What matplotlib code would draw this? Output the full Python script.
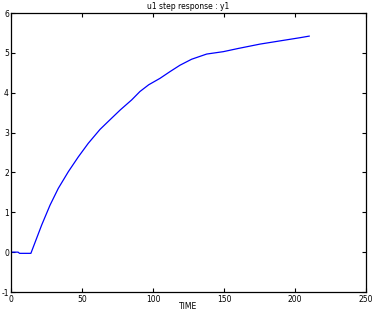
import numpy as np
import matplotlib
matplotlib.use("Agg")
import matplotlib.pyplot as plt

plt.rcParams['axes.unicode_minus'] = False

# step response samples
time = [0, 5, 6, 14, 21.6, 27.5, 33.3, 40.4, 47.4, 54.4, 62.7, 68.8, 77, 85,
        90.8, 97, 104.9, 112, 119, 127.2, 137.8, 149.5, 160, 175.4, 189.4,
        203.5, 210]
y1 = [0, 0, -0.03, -0.03, 0.68, 1.18, 1.60, 2.02, 2.39, 2.73, 3.08, 3.29,
      3.57, 3.82, 4.03, 4.20, 4.36, 4.53, 4.69, 4.84, 4.97, 5.03, 5.11, 5.22,
      5.30, 5.38, 5.42]
xticks = [0, 50, 100, 150, 200, 250]
yticks = [-1, 0, 1, 2, 3, 4, 5, 6]

fig = plt.figure(figsize=(3.73, 3.12), dpi=100)
ax = fig.add_axes([11/373, 20/312, 355/373, 279/312])
ax.plot(time, y1, color="blue", linewidth=0.9)

ax.set_xlim(0, 250)
ax.set_ylim(-1, 6)
ax.set_xticks(xticks)
ax.set_yticks(yticks)
ax.tick_params(direction="in", length=3, width=0.8, labelsize=5.5, pad=2,
               top=True, right=True)
ax.tick_params(axis="y", pad=1.5)
for s in ax.spines.values():
    s.set_linewidth(0.9)
ax.set_title("u1 step response : y1", fontsize=5.5, pad=3)
ax.set_xlabel("TIME", fontsize=5.5, labelpad=-1)

fig.savefig("out.png", dpi=100)
